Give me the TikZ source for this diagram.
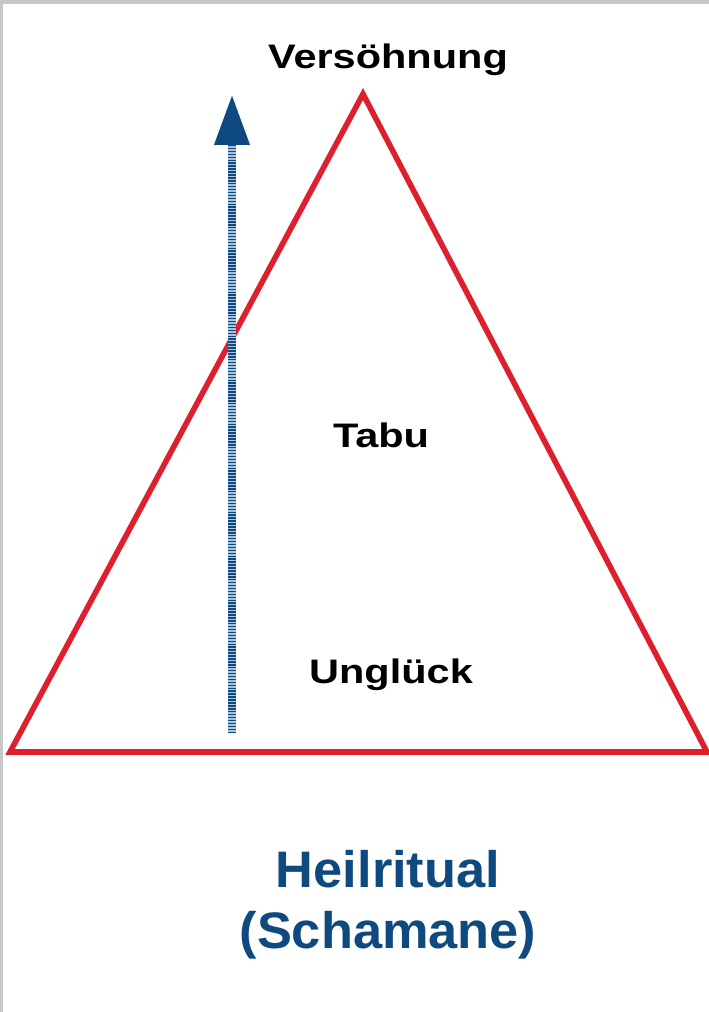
\documentclass[tikz,border=0pt]{standalone}
\usepackage{fontspec}
\setmainfont{Liberation Sans}
\newfontfamily\labelfont{Liberation Sans}[FakeStretch=1.22]
\newfontfamily\titlefont{Liberation Sans}[FakeStretch=1.02]
\usetikzlibrary{arrows.meta, positioning}
\definecolor{trired}{HTML}{DE1F2D}
\definecolor{ritualblue}{HTML}{0E4A7F}
\definecolor{shaftblue}{HTML}{A9C4DC}

\begin{document}
\begin{tikzpicture}[
    x=0.75pt, y=-0.75pt,
    stage/.style={inner sep=0pt, anchor=base, font=\labelfont\bfseries\fontsize{25.5}{30}\selectfont},
    ritual/.style={inner sep=0pt, anchor=base, text=ritualblue,
        font=\titlefont\bfseries\fontsize{38.5}{46}\selectfont},
    triangle/.style={draw=trired, line width=4.2pt, line join=miter},
    shaft/.style={draw=shaftblue, line width=5.5pt},
    stripes/.style={draw=ritualblue, line width=5.5pt, dash pattern=on 1.1pt off 1.1pt,
        -{Triangle[length=37.5pt, width=25.5pt]}}
]
% frame
\fill[black!22] (0,0) rectangle (709,1012);
\fill[white] (3,4) rectangle (709,1012);
\useasboundingbox (0,0) rectangle (709,1012);

% triangle
\coordinate (apex) at (363,94);
\coordinate (left) at (10,752);
\coordinate (right) at (707,752);
\draw[triangle] (left) -- (apex) -- (right) -- cycle;

% arrow
\coordinate (foot) at (232,733);
\coordinate (base) at (232,146);
\coordinate (tip) at (232,95);
\draw[shaft] (foot) -- (base);
\draw[stripes] (foot) -- (tip);

% labels
\node[stage] (top) at (388,69) {Versöhnung};
\node[stage] (tabu) at (381,447) {Tabu};
\node[stage] (ungl) at (391,683) {Unglück};
\node[ritual] (heil) at (388,887) {Heilritual};
\node[ritual] (shaman) at (388,948) {(Schamane)};
\end{tikzpicture}
\end{document}
